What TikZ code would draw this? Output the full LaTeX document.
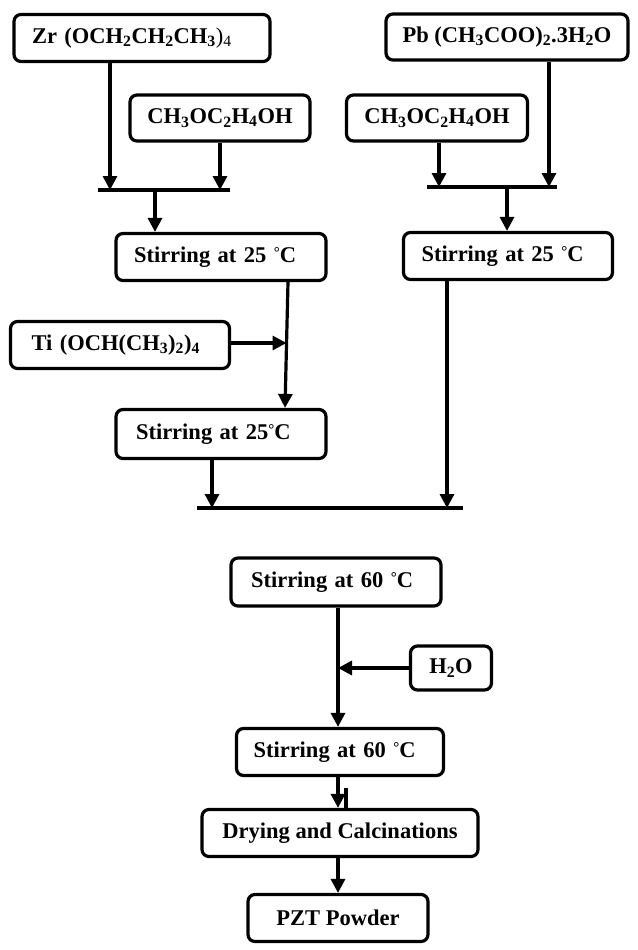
\documentclass[tikz,border=0pt]{standalone}
\usepackage{fontspec}
\setmainfont{Liberation Serif}
\usetikzlibrary{arrows.meta}
\newcommand\chs[1]{\textsubscript{#1}}
\newcommand\dg{{\fontsize{15}{15}\selectfont\raisebox{5pt}{°}}}
\begin{document}
\begin{tikzpicture}[x=1pt,y=-1pt,
  box/.style={draw, line width=3.2pt, rounded corners=7pt, inner ysep=0pt,
    font=\bfseries\fontsize{22.5}{26}\selectfont, fill=white},
  lbox/.style 2 args={box, text width=#1, inner xsep=#2, align=left},
  cbox/.style={box, minimum width=#1, inner xsep=0pt},
  arr/.style={line width=3.2pt, -{Triangle[length=14pt,width=14pt]}},
  barline/.style={line width=4pt}]
\useasboundingbox (0,0) rectangle (637,950);

% boxes
\node[lbox={220pt}{18pt}, minimum height=47pt] (zr) at (142,38) {Zr (OCH\chs2CH\chs2CH\chs3{\mdseries)\chs4}};
\node[cbox=180pt, minimum height=46pt] (cl) at (220,118) {CH\chs3OC\chs2H\chs4OH};
\node[cbox=242pt, minimum height=46pt] (pb) at (507,37) {Pb (CH\chs3COO)\chs2.3H\chs2O};
\node[cbox=181pt, minimum height=46pt] (cr) at (437,118) {CH\chs3OC\chs2H\chs4OH};
\node[lbox={174pt}{18pt}, minimum height=47pt] (s1) at (221,257) {Stirring at 25 \dg C};
\node[lbox={173pt}{18pt}, minimum height=47pt] (s2) at (508,256) {Stirring at 25 \dg C};
\node[lbox={177pt}{21pt}, minimum height=47pt] (ti) at (120,345) {Ti (OCH(CH\chs3)\chs2)\chs4};
\node[lbox={170pt}{20pt}, minimum height=49pt] (s3) at (221,434) {Stirring at 25\dg C};
\node[lbox={170pt}{20pt}, minimum height=48pt] (s6a) at (336,582) {Stirring at 60 \dg C};
\node[cbox=81pt, minimum height=44pt] (h2o) at (451,668) {H\chs2O};
\node[lbox={173pt}{17pt}, minimum height=47pt] (s6b) at (340,752) {Stirring at 60 \dg C};
\node[cbox=276pt, minimum height=47pt] (dry) at (340,833) {Drying and Calcinations};
\node[cbox=180pt, minimum height=47pt] (pzt) at (338,918) {PZT Powder};

% left top junction
\coordinate (j1) at (110,190);
\coordinate (j2) at (220,190);
\coordinate (j1l) at (98,190);
\coordinate (j1r) at (230,190);
\coordinate (j1o) at (155,190);
\draw[barline] (j1l) -- (j1r);
\draw[arr] (zr.south -| j1) -- (j1);
\draw[arr] (cl.south -| j2) -- (j2);
\draw[arr] (j1o) -- (s1.north -| j1o);

% right top junction
\coordinate (k1) at (439,187);
\coordinate (k2) at (549,187);
\coordinate (kl) at (427,187);
\coordinate (kr) at (557,187);
\coordinate (ko) at (507,187);
\draw[barline] (kl) -- (kr);
\draw[arr] (cr.south -| k1) -- (k1);
\draw[arr] (pb.south -| k2) -- (k2);
\draw[arr] (ko) -- (s2.north -| ko);

% left chain
\draw[arr] ([xshift=67pt]s1.south) -- ([xshift=64pt]s3.north);
\coordinate (tj) at (286.5,343);
\draw[arr] (ti.east |- tj) -- (tj);

% bottom junction
\coordinate (m1) at (212,508);
\coordinate (m2) at (447,508);
\coordinate (ml) at (197,508);
\coordinate (mr) at (463,508);
\draw[barline] (ml) -- (mr);
\draw[arr] (s3.south -| m1) -- (m1);
\draw[arr] (s2.south -| m2) -- (m2);

% lower chain
\coordinate (vx) at (338,0);
\draw[arr] (s6a.south -| vx) -- (s6b.north -| vx);
\coordinate (hj) at (338,668);
\draw[arr] (h2o.west) -- (hj);
\draw[arr] (s6b.south -| vx) -- (dry.north -| vx);
\coordinate (tk) at (346,788);
\draw[line width=3.2pt] (tk) -- (dry.north -| tk);
\draw[arr] (dry.south -| vx) -- (pzt.north -| vx);
\end{tikzpicture}
\end{document}
